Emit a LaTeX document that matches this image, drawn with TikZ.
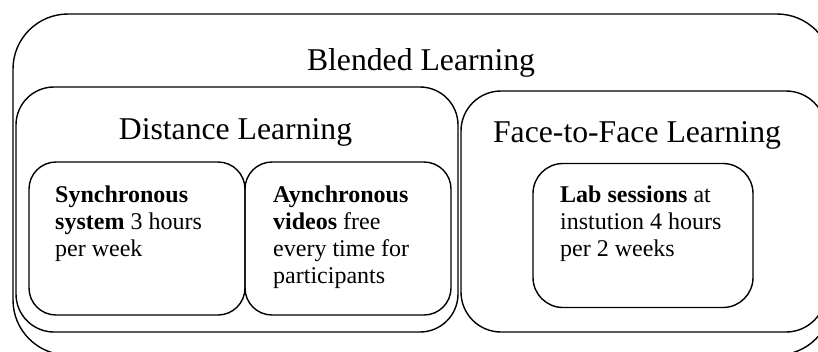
\documentclass[tikz,border=0pt]{standalone}
\usepackage{fontspec}
\setmainfont{Liberation Serif}
\begin{document}
\begin{tikzpicture}[x=1pt,y=-1pt,
  boxnode/.style={draw=black, line width=1.4pt, inner sep=0pt, fill=none},
  titletext/.style={font=\fontsize{31.7}{36}\selectfont, inner sep=0pt, anchor=base},
  bodytext/.style={font=\fontsize{24}{27}\selectfont, inner sep=0pt, anchor=north west, align=left}]
\useasboundingbox (0,0) rectangle (818,351);
\clip (0,0) rectangle (818,351);
\fill[white] (0,0) rectangle (818,351);
% boxes
\node[boxnode, rounded corners=55pt, minimum width=819pt, minimum height=341pt] (blended) at (422.5,184.5) {};
\node[boxnode, rounded corners=38pt, minimum width=442pt, minimum height=245pt] (distance) at (237,209.5) {};
\node[boxnode, rounded corners=40pt, minimum width=365pt, minimum height=241pt] (f2f) at (643.5,211.5) {};
\node[boxnode, rounded corners=27pt, minimum width=216pt, minimum height=153pt] (sync) at (137,238.5) {};
\node[boxnode, rounded corners=27pt, minimum width=206pt, minimum height=153pt] (async) at (348,238.5) {};
\node[boxnode, rounded corners=30pt, minimum width=220pt, minimum height=144pt] (lab) at (643,235.5) {};
% titles
\node[titletext] (tblended) at (421,70) {Blended Learning};
\node[titletext] (tdistance) at (235.5,139) {Distance Learning};
\node[titletext] (tf2f) at (637,142) {Face-to-Face Learning};
% body texts
\node[bodytext] (tsync) at (55,186) {\textbf{Synchronous}\\\textbf{system} 3 hours\\per week};
\node[bodytext] (tasync) at (273,186) {\textbf{Aynchronous}\\\textbf{videos} free\\every time for\\participants};
\node[bodytext] (tlab) at (560,186) {\textbf{Lab sessions} at\\instution 4 hours\\per 2 weeks};
\end{tikzpicture}
\end{document}
